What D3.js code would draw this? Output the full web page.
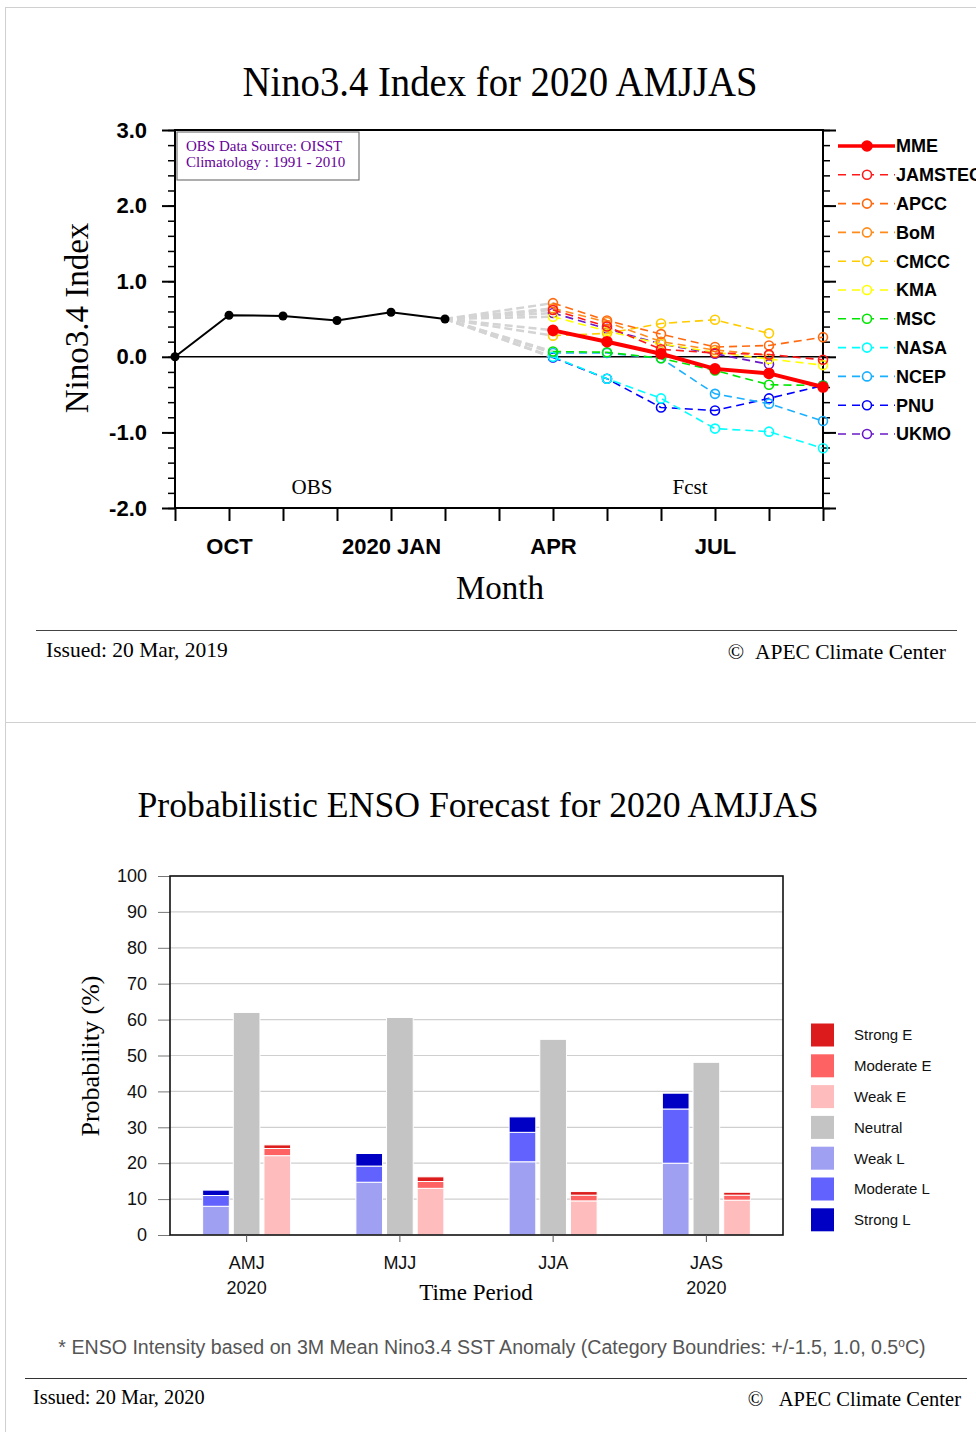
<!DOCTYPE html>
<meta charset="utf-8">
<style>
body { margin: 0; background: #fff; }
svg { display: block; font-family: "Liberation Sans", Arial, sans-serif; }
.serif { font-family: "Liberation Serif", "Times New Roman", serif; }
</style>
<svg width="976" height="1432"></svg>
<script src="https://d3js.org/d3.v7.min.js"></script>
<script>

// ---- data: Nino3.4 index ----
var months = ["SEP", "OCT", "NOV", "DEC", "JAN", "FEB", "MAR", "APR", "MAY", "JUN", "JUL", "AUG", "SEP"];
var monthLabels = ["", "OCT", "", "", "2020 JAN", "", "", "APR", "", "", "JUL", "", ""];
var yMajor = [-2, -1, 0, 1, 2, 3];
var obsValues = [0.00, 0.55, 0.54, 0.48, 0.59, 0.50];
var fcstStart = 7; // APR

var models = ["MME", "JAMSTEC", "APCC", "BoM", "CMCC", "KMA", "MSC", "NASA", "NCEP", "PNU", "UKMO"];
var mme     = [0.35, 0.20, 0.04, -0.16, -0.22, -0.40];
var jamstec = [0.62, 0.40, 0.10, 0.05, 0.03, -0.04];
var apcc    = [0.71, 0.48, 0.30, 0.13, 0.15, 0.26];
var bom     = [0.64, 0.46, 0.20, 0.09, 0.02];
var cmcc    = [0.28, 0.31, 0.44, 0.49, 0.31];
var kma     = [0.53, 0.34, 0.17, 0.06, -0.03, -0.11];
var msc     = [0.07, 0.06, -0.02, -0.18, -0.37, -0.38];
var nasa    = [0.00, -0.29, -0.55, -0.95, -0.99, -1.21];
var ncep    = [0.05, 0.05, -0.02, -0.49, -0.62, -0.85];
var pnu     = [-0.01, -0.29, -0.67, -0.71, -0.55, -0.38];
var ukmo    = [0.58, 0.37, 0.17, 0.04, -0.10];
var modelValues = [mme, jamstec, apcc, bom, cmcc, kma, msc, nasa, ncep, pnu, ukmo];

// ---- data: probabilistic ENSO ----
var periods = ["AMJ", "MJJ", "JJA", "JAS"];
var periodYears = ["2020", "", "", "2020"];
var strongL   = [1.5, 3.5, 4.3, 4.4];
var moderateL = [3.0, 4.5, 8.2, 15.1];
var weakL     = [8.0, 14.7, 20.4, 20.0];
var neutral   = [62.0, 60.6, 54.5, 48.1];
var weakE     = [22.1, 13.0, 9.5, 9.7];
var moderateE = [2.0, 1.9, 1.6, 1.4];
var strongE   = [1.0, 1.3, 1.0, 0.8];
var categories = ["Strong E", "Moderate E", "Weak E", "Neutral", "Weak L", "Moderate L", "Strong L"];

var svg = d3.select("svg");

// panel frames
svg.append("rect").attr("x", 5.5).attr("y", 7.5).attr("width", 1000).attr("height", 715)
    .attr("fill", "none").attr("stroke", "#d0d0d0");
svg.append("rect").attr("x", 5.5).attr("y", 722.5).attr("width", 1000).attr("height", 720)
    .attr("fill", "none").attr("stroke", "#d0d0d0");

// =================== top chart ===================
var x = d3.scaleLinear().domain([0, months.length - 1]).range([175, 823]),
    y = d3.scaleLinear().domain([-2, 3]).range([508, 130]);

var modelColor = d3.scaleOrdinal()
    .domain(models)
    .range(["#ff0000", "#ff1a1a", "#ff6a10", "#ff8c1a", "#ffcc00", "#ffff00", "#00e600", "#00ffff", "#1ab0ff", "#0000ff", "#6a1ac8"]);

var g1 = svg.append("g");

g1.append("text").attr("class", "serif")
    .attr("x", 500).attr("y", 96).attr("text-anchor", "middle")
    .attr("font-size", 42).attr("textLength", 515).attr("lengthAdjust", "spacingAndGlyphs")
    .text("Nino3.4 Index for 2020 AMJJAS");

var minorTicks = d3.range(-20, 31, 2).map(function(d) { return d / 10; });

// left axis
g1.append("g").attr("transform", "translate(175,0)")
    .call(d3.axisLeft(y).tickValues(minorTicks).tickSize(7).tickFormat(""))
    .call(function(a) { a.select(".domain").remove(); a.selectAll("line").attr("stroke-width", 1.5); });
g1.append("g").attr("transform", "translate(175,0)")
    .call(d3.axisLeft(y).tickValues(yMajor).tickSize(13).tickPadding(15).tickFormat(function(d) { return d.toFixed(1); }))
    .call(function(a) {
      a.select(".domain").remove();
      a.selectAll("line").attr("stroke-width", 2);
      a.selectAll("text").attr("font-size", 22).attr("font-weight", "bold")
        .attr("font-family", "Liberation Sans, Arial, sans-serif").attr("fill", "#000");
    });

// right axis
g1.append("g").attr("transform", "translate(823,0)")
    .call(d3.axisRight(y).tickValues(minorTicks).tickSize(7).tickFormat(""))
    .call(function(a) { a.select(".domain").remove(); a.selectAll("line").attr("stroke-width", 1.5); });
g1.append("g").attr("transform", "translate(823,0)")
    .call(d3.axisRight(y).tickValues(yMajor).tickSize(13).tickFormat(""))
    .call(function(a) { a.select(".domain").remove(); a.selectAll("line").attr("stroke-width", 2); });

// bottom axis
g1.append("g").attr("transform", "translate(0,508)")
    .call(d3.axisBottom(x).tickValues(d3.range(months.length)).tickSize(13).tickPadding(17)
      .tickFormat(function(i) { return monthLabels[i]; }))
    .call(function(a) {
      a.select(".domain").remove();
      a.selectAll("line").attr("stroke-width", 2);
      a.selectAll("text").attr("font-size", 22).attr("font-weight", "bold")
        .attr("font-family", "Liberation Sans, Arial, sans-serif").attr("fill", "#000");
    });

// plot frame
g1.append("rect").attr("x", 175).attr("y", 130).attr("width", 648).attr("height", 378)
    .attr("fill", "none").attr("stroke", "#000").attr("stroke-width", 2);

// zero line
g1.append("line").attr("x1", 175).attr("x2", 823).attr("y1", y(0)).attr("y2", y(0))
    .attr("stroke", "#000").attr("stroke-width", 1.5);

// info box
g1.append("rect").attr("x", 177).attr("y", 132).attr("width", 182).attr("height", 48)
    .attr("fill", "#fff").attr("stroke", "#777").attr("stroke-width", 1.2);
g1.append("text").attr("class", "serif").attr("x", 186).attr("y", 151)
    .attr("font-size", 15).attr("fill", "#660099").text("OBS Data Source: OISST");
g1.append("text").attr("class", "serif").attr("x", 186).attr("y", 167)
    .attr("font-size", 15).attr("fill", "#660099").text("Climatology : 1991 - 2010");

g1.append("text").attr("class", "serif").attr("x", 312).attr("y", 494)
    .attr("text-anchor", "middle").attr("font-size", 21).text("OBS");
g1.append("text").attr("class", "serif").attr("x", 690).attr("y", 494)
    .attr("text-anchor", "middle").attr("font-size", 21).text("Fcst");

// axis titles
g1.append("text").attr("class", "serif")
    .attr("transform", "translate(88,318) rotate(-90)")
    .attr("text-anchor", "middle").attr("font-size", 33).text("Nino3.4 Index");
g1.append("text").attr("class", "serif").attr("x", 500).attr("y", 599)
    .attr("text-anchor", "middle").attr("font-size", 33).text("Month");

var lastObs = obsValues.length - 1;

// grey connectors from the last observation to each model's first month
g1.selectAll(".link").data(modelValues).enter().append("line")
    .attr("class", "link")
    .attr("x1", x(lastObs)).attr("y1", y(obsValues[lastObs]))
    .attr("x2", x(fcstStart)).attr("y2", function(d) { return y(d[0]); })
    .attr("stroke", "#d4d4d4").attr("stroke-width", 2.5).attr("stroke-dasharray", "8,4");

// observation line
var obsLine = d3.line().x(function(d, i) { return x(i); }).y(function(d) { return y(d); });
g1.append("path").datum(obsValues).attr("d", obsLine)
    .attr("fill", "none").attr("stroke", "#000").attr("stroke-width", 2);
g1.selectAll(".obs").data(obsValues).enter().append("circle")
    .attr("class", "obs").attr("cx", function(d, i) { return x(i); }).attr("cy", function(d) { return y(d); })
    .attr("r", 4.5).attr("fill", "#000");

// model forecasts (MME drawn last)
var fLine = d3.line().x(function(d, i) { return x(fcstStart + i); }).y(function(d) { return y(d); });
var order = d3.range(models.length).reverse();
order.forEach(function(k) {
  var name = models[k], vals = modelValues[k], isMme = k === 0;
  var c = modelColor(name);
  g1.append("path").datum(vals).attr("d", fLine)
      .attr("fill", "none").attr("stroke", c)
      .attr("stroke-width", isMme ? 4 : 1.6)
      .attr("stroke-dasharray", isMme ? null : "8,5");
  g1.selectAll(".pt" + k).data(vals).enter().append("circle")
      .attr("cx", function(d, i) { return x(fcstStart + i); })
      .attr("cy", function(d) { return y(d); })
      .attr("r", isMme ? 5 : 4.5)
      .attr("fill", isMme ? c : "none")
      .attr("stroke", c).attr("stroke-width", 1.6);
});

// legend (the last letter of JAMSTEC runs off the page, as in the original)
var leg = g1.selectAll(".leg").data(models).enter().append("g")
    .attr("transform", function(d, i) { return "translate(0," + (146 + i * 28.8) + ")"; });
leg.append("line").attr("x1", 838).attr("x2", 895)
    .attr("stroke", function(d) { return modelColor(d); })
    .attr("stroke-width", function(d, i) { return i === 0 ? 3.5 : 1.6; })
    .attr("stroke-dasharray", function(d, i) { return i === 0 ? null : "8,6"; });
leg.append("circle").attr("cx", 867).attr("r", function(d, i) { return i === 0 ? 5 : 4.5; })
    .attr("fill", function(d, i) { return i === 0 ? modelColor(d) : "#fff"; })
    .attr("stroke", function(d) { return modelColor(d); }).attr("stroke-width", 1.6);
leg.append("text").attr("x", 896).attr("dy", "0.36em")
    .attr("font-size", 18).attr("font-weight", "bold").text(function(d) { return d; });

// footer
g1.append("line").attr("x1", 36).attr("x2", 957).attr("y1", 630.5).attr("y2", 630.5)
    .attr("stroke", "#444").attr("stroke-width", 1);
g1.append("text").attr("class", "serif").attr("x", 46).attr("y", 657)
    .attr("font-size", 21.5).text("Issued: 20 Mar, 2019");
g1.append("text").attr("class", "serif").attr("x", 946).attr("y", 659)
    .attr("text-anchor", "end").attr("font-size", 21.5).text("\u00a9\u00a0\u00a0APEC Climate Center");

// =================== bottom chart ===================
var g2 = svg.append("g");

g2.append("text").attr("class", "serif").attr("x", 478).attr("y", 817)
    .attr("text-anchor", "middle").attr("font-size", 35.7)
    .text("Probabilistic ENSO Forecast for 2020 AMJJAS");

var bx = d3.scaleBand().domain(periods).range([170, 783]).padding(0),
    by = d3.scaleLinear().domain([0, 100]).range([1235, 876]),
    sub = d3.scaleBand().domain(["L", "N", "E"]).range([-44, 44]).paddingInner(0.13);

var catColor = d3.scaleOrdinal().domain(categories)
    .range(["#dc1c1c", "#ff6262", "#ffbcbc", "#c4c4c4", "#a0a0f2", "#6262ff", "#0000c4"]);

// gridlines + y axis
g2.append("g").attr("transform", "translate(170,0)")
    .call(d3.axisLeft(by).tickValues(d3.range(0, 101, 10)).tickSize(12).tickPadding(11))
    .call(function(a) {
      a.select(".domain").remove();
      a.selectAll("line").attr("stroke", "#777");
      a.selectAll("text").attr("font-size", 18).attr("fill", "#111")
        .attr("font-family", "Liberation Sans, Arial, sans-serif");
    });
g2.selectAll(".grid").data(d3.range(10, 101, 10)).enter().append("line")
    .attr("x1", 170).attr("x2", 783)
    .attr("y1", function(d) { return by(d); }).attr("y2", function(d) { return by(d); })
    .attr("stroke", "#cfcfcf").attr("stroke-width", 1.2);

// stacked bars
var rowsL = periods.map(function(p, i) { return { period: p, "Weak L": weakL[i], "Moderate L": moderateL[i], "Strong L": strongL[i] }; });
var rowsE = periods.map(function(p, i) { return { period: p, "Weak E": weakE[i], "Moderate E": moderateE[i], "Strong E": strongE[i] }; });
var rowsN = periods.map(function(p, i) { return { period: p, "Neutral": neutral[i] }; });

function drawStack(rows, keys, slot) {
  var series = d3.stack().keys(keys)(rows);
  g2.append("g").selectAll("g").data(series).enter().append("g")
      .attr("fill", function(s) { return catColor(s.key); })
    .selectAll("rect").data(function(s) { return s; }).enter().append("rect")
      .attr("x", function(d) { return bx(d.data.period) + bx.bandwidth() / 2 + sub(slot); })
      .attr("width", sub.bandwidth())
      .attr("y", function(d) { return by(d[1]); })
      .attr("height", function(d) { return by(d[0]) - by(d[1]); })
      .attr("stroke", "#fff").attr("stroke-width", 1);
}
drawStack(rowsL, ["Weak L", "Moderate L", "Strong L"], "L");
drawStack(rowsN, ["Neutral"], "N");
drawStack(rowsE, ["Weak E", "Moderate E", "Strong E"], "E");

// frame
g2.append("rect").attr("x", 170).attr("y", 876).attr("width", 613).attr("height", 359)
    .attr("fill", "none").attr("stroke", "#111").attr("stroke-width", 1.6);

// x axis
g2.append("g").attr("transform", "translate(0,1235)")
    .call(d3.axisBottom(bx).tickSize(7).tickPadding(14))
    .call(function(a) {
      a.select(".domain").remove();
      a.selectAll("line").attr("stroke", "#555");
      a.selectAll("text").attr("font-size", 18).attr("fill", "#111")
        .attr("font-family", "Liberation Sans, Arial, sans-serif");
    });
g2.selectAll(".yr").data(periods).enter().append("text")
    .attr("x", function(d) { return bx(d) + bx.bandwidth() / 2; }).attr("y", 1294)
    .attr("text-anchor", "middle").attr("font-size", 18).attr("fill", "#111")
    .text(function(d, i) { return periodYears[i]; });

g2.append("text").attr("class", "serif").attr("x", 476).attr("y", 1300)
    .attr("text-anchor", "middle").attr("font-size", 23).text("Time Period");
g2.append("text").attr("class", "serif")
    .attr("transform", "translate(99,1056) rotate(-90)")
    .attr("text-anchor", "middle").attr("font-size", 26).text("Probability (%)");

// legend
var leg2 = g2.selectAll(".leg2").data(categories).enter().append("g")
    .attr("transform", function(d, i) { return "translate(0," + (1035 + i * 30.8) + ")"; });
leg2.append("rect").attr("x", 811).attr("y", -11.5).attr("width", 23).attr("height", 23)
    .attr("fill", function(d) { return catColor(d); });
leg2.append("text").attr("x", 854).attr("dy", "0.36em").attr("font-size", 15).attr("fill", "#111")
    .text(function(d) { return d; });

// footnote
var fn = g2.append("text").attr("x", 492).attr("y", 1354).attr("text-anchor", "middle")
    .attr("font-size", 19.6).attr("fill", "#555");
fn.append("tspan").text("* ENSO Intensity based on 3M Mean Nino3.4 SST Anomaly (Category Boundries: +/-1.5, 1.0, 0.5");
fn.append("tspan").attr("dy", -7).attr("font-size", 12).text("o");
fn.append("tspan").attr("dy", 7).text("C)");

g2.append("line").attr("x1", 25).attr("x2", 967).attr("y1", 1378.5).attr("y2", 1378.5)
    .attr("stroke", "#333").attr("stroke-width", 1);
g2.append("text").attr("class", "serif").attr("x", 33).attr("y", 1404)
    .attr("font-size", 20.3).text("Issued: 20 Mar, 2020");
g2.append("text").attr("class", "serif").attr("x", 961).attr("y", 1406)
    .attr("text-anchor", "end").attr("font-size", 20.5).text("\u00a9\u00a0\u00a0\u00a0APEC Climate Center");

</script>
